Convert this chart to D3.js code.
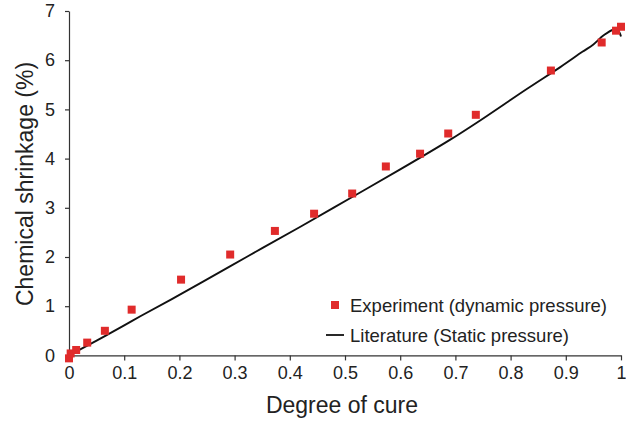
<!DOCTYPE html>
<html>
<head>
<meta charset="utf-8">
<script src="https://cdn.jsdelivr.net/npm/d3@7"></script>
<style>
  html, body { margin: 0; padding: 0; background: #fff; }
  svg { display: block; }
  text { font-family: "Liberation Sans", Arial, Helvetica, sans-serif; fill: #222; }
</style>
</head>
<body>
<svg id="chart" width="626" height="425"></svg>
<script>
// ---- data ----
const expX = [0, 0.003, 0.013, 0.033, 0.065, 0.1135, 0.203, 0.292, 0.373, 0.444, 0.513, 0.574, 0.636, 0.687, 0.737, 0.873, 0.965, 0.991, 1.0];
const expY = [-0.06, 0.04, 0.11, 0.26, 0.50, 0.93, 1.54, 2.05, 2.53, 2.88, 3.29, 3.84, 4.10, 4.51, 4.89, 5.79, 6.36, 6.60, 6.68];

const litX = [0, 0.05, 0.1, 0.13, 0.2, 0.29, 0.35, 0.42, 0.51, 0.6, 0.69, 0.74, 0.83, 0.89, 0.93, 0.95, 0.968, 0.986, 0.995, 1.0];
const litY = [0, 0.3, 0.61, 0.8, 1.23, 1.8, 2.18, 2.62, 3.2, 3.78, 4.38, 4.74, 5.42, 5.86, 6.17, 6.32, 6.5, 6.62, 6.6, 6.48];

const xTicks = [0, 0.1, 0.2, 0.3, 0.4, 0.5, 0.6, 0.7, 0.8, 0.9, 1];
const yTicks = [0, 1, 2, 3, 4, 5, 6, 7];

const xTitle = "Degree of cure";
const yTitle = "Chemical shrinkage (%)";
const legendLabels = ["Experiment (dynamic pressure)", "Literature (Static pressure)"];

// ---- chart ----
const svg = d3.select("#chart");
const x = d3.scaleLinear().domain([0, 1]).range([69, 621]);
const y = d3.scaleLinear().domain([0, 7]).range([355.4, 11]);

const axisColor = "#333";

const xAxis = svg.append("g")
  .attr("transform", `translate(0,${y(0)})`)
  .call(d3.axisBottom(x).tickValues(xTicks).tickSize(5).tickSizeOuter(0).tickPadding(6)
    .tickFormat(d => d === 0 ? "0" : d === 1 ? "1" : d3.format(".1f")(d)));
xAxis.select(".domain").attr("stroke", axisColor).attr("stroke-width", 1.2);
xAxis.selectAll(".tick line").attr("stroke", axisColor).attr("stroke-width", 1.2);
xAxis.selectAll(".tick text").attr("font-size", 18).attr("fill", "#222")
  .attr("font-family", "'Liberation Sans', Arial, sans-serif");

const yAxis = svg.append("g")
  .attr("transform", `translate(${x(0)},0)`)
  .call(d3.axisLeft(y).tickValues(yTicks).tickSize(4).tickSizeOuter(0).tickPadding(10)
    .tickFormat(d3.format("d")));
yAxis.select(".domain").attr("stroke", axisColor).attr("stroke-width", 1.2);
yAxis.selectAll(".tick line").attr("stroke", axisColor).attr("stroke-width", 1.2);
yAxis.selectAll(".tick text").attr("font-size", 18).attr("fill", "#222")
  .attr("font-family", "'Liberation Sans', Arial, sans-serif");

// literature line
const litData = litX.map((v, i) => [v, litY[i]]);
svg.append("path")
  .datum(litData)
  .attr("fill", "none")
  .attr("stroke", "#111")
  .attr("stroke-width", 1.9)
  .attr("d", d3.line().x(d => x(d[0])).y(d => y(d[1])).curve(d3.curveCatmullRom.alpha(0.5)));

// experiment points
const expData = expX.map((v, i) => [v, expY[i]]);
const ms = 8;
svg.append("g").selectAll("rect")
  .data(expData)
  .join("rect")
  .attr("x", d => x(d[0]) - ms / 2)
  .attr("y", d => y(d[1]) - ms / 2)
  .attr("width", ms)
  .attr("height", ms)
  .attr("fill", "#e02b2b");

// axis titles
svg.append("text")
  .attr("x", 342)
  .attr("y", 413)
  .attr("text-anchor", "middle")
  .attr("font-size", 23)
  .text(xTitle);

svg.append("text")
  .attr("transform", "translate(33,184) rotate(-90)")
  .attr("text-anchor", "middle")
  .attr("font-size", 23)
  .text(yTitle);

// legend
const lg = svg.append("g");
lg.append("rect").attr("x", 331).attr("y", 301).attr("width", 8).attr("height", 8).attr("fill", "#e02b2b");
lg.append("text").attr("x", 350).attr("y", 311.5).attr("font-size", 18.5).text(legendLabels[0]);
lg.append("line").attr("x1", 326).attr("x2", 344).attr("y1", 335).attr("y2", 335)
  .attr("stroke", "#111").attr("stroke-width", 1.8);
lg.append("text").attr("x", 350).attr("y", 341.5).attr("font-size", 18.5).text(legendLabels[1]);
</script>
</body>
</html>
